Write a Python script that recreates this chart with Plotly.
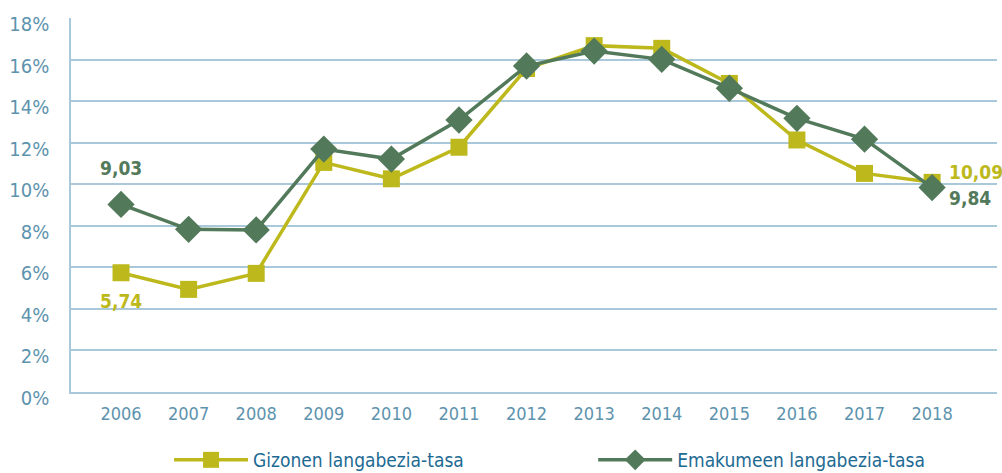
import plotly.graph_objects as go

years = [2006, 2007, 2008, 2009, 2010, 2011, 2012, 2013, 2014, 2015, 2016, 2017, 2018]
gizonen = [5.74, 4.94, 5.71, 11.05, 10.26, 11.78, 15.57, 16.67, 16.54, 14.85, 12.13, 10.52, 10.09]
emakumeen = [9.03, 7.83, 7.80, 11.69, 11.21, 13.09, 15.69, 16.41, 16.01, 14.62, 13.17, 12.17, 9.84]
y_ticks = [0, 2, 4, 6, 8, 10, 12, 14, 16, 18]
names = ["Gizonen langabezia-tasa", "Emakumeen langabezia-tasa"]

YELLOW = "#BDB91D"
GREEN = "#527A5A"
TICK = "#5E93AE"
GRID = "#A9C8DA"
LEGTXT = "#1D6A93"
NARROW = "DejaVu Sans Condensed, Liberation Sans Narrow, sans-serif"

fig = go.Figure()
fig.add_trace(go.Scatter(
    x=years, y=gizonen, name=names[0], mode="lines+markers", legend="legend",
    line=dict(color=YELLOW, width=3.5),
    marker=dict(symbol="square", size=17, color=YELLOW),
))
fig.add_trace(go.Scatter(
    x=years, y=emakumeen, name=names[1], mode="lines+markers", legend="legend2",
    line=dict(color=GREEN, width=3.5),
    marker=dict(symbol="diamond", size=21, color=GREEN),
))

def fmt(v):
    return f"{v:.2f}".replace(".", ",")

ann_font = dict(family=NARROW, size=19)
fig.add_annotation(x=years[0], y=emakumeen[0], text="<b>" + fmt(emakumeen[0]) + "</b>",
                   showarrow=False, yshift=36, font=dict(color=GREEN, **ann_font))
fig.add_annotation(x=years[0], y=gizonen[0], text="<b>" + fmt(gizonen[0]) + "</b>",
                   showarrow=False, yshift=-28, font=dict(color=YELLOW, **ann_font))
fig.add_annotation(x=years[-1], y=gizonen[-1], text="<b>" + fmt(gizonen[-1]) + "</b>",
                   showarrow=False, xanchor="left", xshift=15, yshift=10,
                   font=dict(color=YELLOW, **ann_font))
fig.add_annotation(x=years[-1], y=emakumeen[-1], text="<b>" + fmt(emakumeen[-1]) + "</b>",
                   showarrow=False, xanchor="left", xshift=15, yshift=-10,
                   font=dict(color=GREEN, **ann_font))

leg_common = dict(orientation="h", xanchor="left", yanchor="middle",
                  xref="container", yref="container", y=0.0275,
                  font=dict(family=NARROW, size=19, color=LEGTXT),
                  itemwidth=74, bgcolor="rgba(0,0,0,0)")

fig.update_layout(
    width=1002, height=473,
    margin=dict(l=71, r=5, t=18, b=81),
    paper_bgcolor="white", plot_bgcolor="white",
    showlegend=True,
    legend=dict(x=0.1687, **leg_common),
    legend2=dict(x=0.592, **leg_common),
    xaxis=dict(
        range=[years[0] - 0.74, years[-1] + 0.96],
        tickvals=years, ticktext=[str(y) for y in years],
        showgrid=False, zeroline=False, showline=True, linecolor=GRID, linewidth=1.5,
        automargin=False,
        tickfont=dict(family=NARROW, size=18, color=TICK),
        ticks="", ticklen=0, ticklabelstandoff=5,
    ),
    yaxis=dict(
        range=[0, 18], tickvals=y_ticks, ticktext=[f"{t}%" for t in y_ticks],
        showgrid=True, gridcolor=GRID, gridwidth=1.5, automargin=False,
        zeroline=False, showline=True, linecolor=GRID, linewidth=1.5,
        tickfont=dict(family=NARROW, size=20, color=TICK),
        ticks="", ticklabelstandoff=16, ticklabelshift=6,
    ),
)

fig.write_html("out.html", config={"displayModeBar": False},
               post_script="document.body.style.margin='0';")
